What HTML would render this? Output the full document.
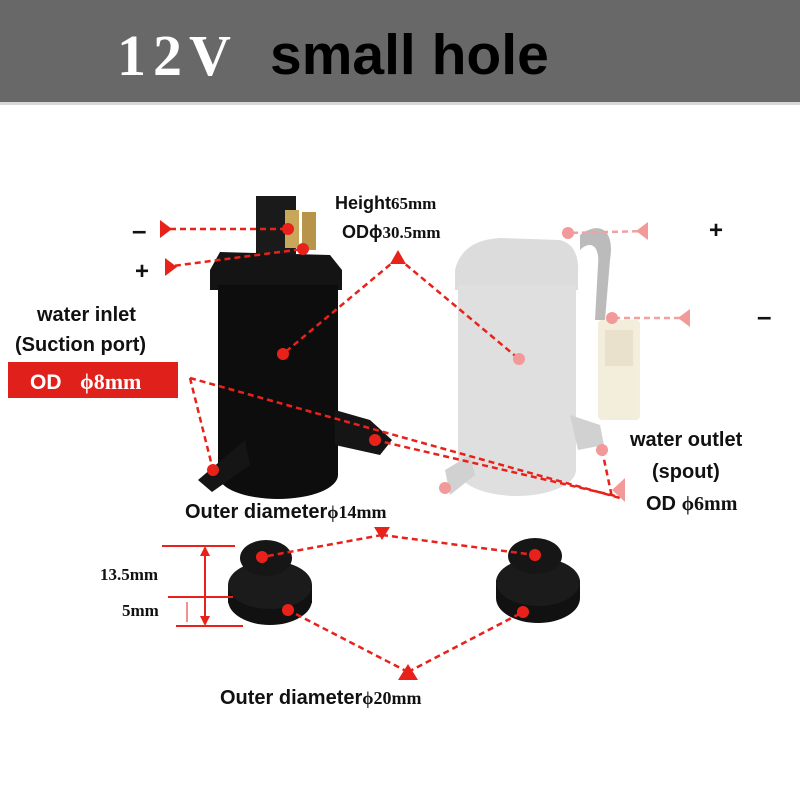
<!DOCTYPE html>
<html><head><meta charset="utf-8"><style>
html,body{margin:0;padding:0;background:#fff}
svg{display:block}
.s{font-family:"Liberation Sans",sans-serif;font-weight:bold}
.r{font-family:"Liberation Serif",serif;font-weight:bold}
</style></head><body>
<svg width="800" height="800" viewBox="0 0 800 800" xmlns="http://www.w3.org/2000/svg">
<rect x="0" y="0" width="800" height="102" fill="#686868"/>
<rect x="0" y="102" width="800" height="3" fill="#d8d8d8"/>
<text x="117" y="75" class="r" font-size="58" letter-spacing="7" fill="#fff">12V</text>
<text x="270" y="74" class="s" font-size="57" fill="#000">small hole</text>

<!-- gray pump -->
<g opacity="0.85">
<path d="M580 235 C600 220 615 230 610 260 L605 320 L595 320 L598 265 C600 245 590 240 580 250 Z" fill="#b0b0b0"/>
<path d="M455 270 Q462 240 500 238 L560 240 Q580 245 578 275 L578 290 L455 290 Z" fill="#d6d6d6"/>
<rect x="458" y="285" width="118" height="185" fill="#dadada"/>
<ellipse cx="517" cy="470" rx="59" ry="26" fill="#dadada"/>
<path d="M570 415 L600 425 L604 445 L578 450 Z" fill="#cacaca"/>
<path d="M445 470 L470 455 L475 475 L450 495 Z" fill="#cacaca"/>
<rect x="598" y="320" width="42" height="100" rx="4" fill="#f2ebd6"/>
<rect x="605" y="330" width="28" height="36" fill="#e6dcc2"/>
</g>

<!-- black pump -->
<rect x="256" y="196" width="40" height="58" fill="#1a1a1a"/>
<rect x="285" y="210" width="14" height="38" fill="#c9a75a"/>
<rect x="302" y="212" width="14" height="38" fill="#b8944a"/>
<path d="M210 270 L220 252 L330 255 L342 270 L342 290 L210 290 Z" fill="#141414"/>
<rect x="218" y="285" width="120" height="190" fill="#0d0d0d"/>
<ellipse cx="278" cy="475" rx="60" ry="24" fill="#0d0d0d"/>
<path d="M335 410 L370 420 L392 440 L380 455 L335 445 Z" fill="#151515"/>
<path d="M245 440 L250 465 L212 492 L198 480 Z" fill="#151515"/>

<!-- grommets -->
<ellipse cx="270" cy="600" rx="42" ry="25" fill="#111"/>
<rect x="228" y="585" width="84" height="18" fill="#111"/>
<ellipse cx="270" cy="585" rx="42" ry="24" fill="#1b1b1b"/>
<ellipse cx="266" cy="558" rx="26" ry="18" fill="#161616"/>
<ellipse cx="538" cy="598" rx="42" ry="25" fill="#111"/>
<rect x="496" y="580" width="84" height="18" fill="#111"/>
<ellipse cx="538" cy="582" rx="42" ry="24" fill="#1b1b1b"/>
<ellipse cx="535" cy="556" rx="27" ry="18" fill="#161616"/>

<!-- red annotations -->
<g stroke="#e8221b" stroke-width="2.5" stroke-dasharray="6,4" fill="none">
<line x1="160" y1="229" x2="288" y2="229"/>
<line x1="165" y1="267" x2="303" y2="249"/>
<line x1="398" y1="258" x2="283" y2="354"/>
<line x1="398" y1="258" x2="519" y2="359"/>
<line x1="190" y1="378" x2="213" y2="470"/>
<line x1="190" y1="378" x2="620" y2="498"/>
<line x1="375" y1="440" x2="620" y2="497"/>
<line x1="602" y1="450" x2="612" y2="497"/>
<line x1="382" y1="535" x2="262" y2="557"/>
<line x1="382" y1="535" x2="535" y2="555"/>
<line x1="408" y1="672" x2="288" y2="610"/>
<line x1="408" y1="672" x2="523" y2="612"/>
</g>
<g stroke="#f5a0a0" stroke-width="2.5" stroke-dasharray="6,4">
<line x1="648" y1="231" x2="568" y2="233"/>
<line x1="690" y1="318" x2="612" y2="318"/>
</g>
<g fill="#e8221b">
<circle cx="288" cy="229" r="6"/><circle cx="303" cy="249" r="6"/>
<circle cx="283" cy="354" r="6"/><circle cx="213" cy="470" r="6"/>
<circle cx="375" cy="440" r="6"/>
<circle cx="262" cy="557" r="6"/><circle cx="535" cy="555" r="6"/>
<circle cx="288" cy="610" r="6"/><circle cx="523" cy="612" r="6"/>
<polygon points="160,220 172,229 160,238"/>
<polygon points="165,258 177,267 165,276"/>
<polygon points="390,264 398,250 406,264"/>
<polygon points="374,527 390,527 382,540"/>
<polygon points="398,680 418,680 408,664"/>
</g>
<g fill="#f29a9a">
<circle cx="519" cy="359" r="6"/><circle cx="445" cy="488" r="6"/>
<circle cx="602" cy="450" r="6"/><circle cx="568" cy="233" r="6"/><circle cx="612" cy="318" r="6"/>
<polygon points="648,222 636,231 648,240"/>
<polygon points="690,309 678,318 690,327"/>
<polygon points="612,490 625,478 625,502"/>
</g>
<!-- dimension lines -->
<g stroke="#e8221b" stroke-width="2" fill="#e8221b">
<line x1="162" y1="546" x2="235" y2="546"/>
<line x1="168" y1="597" x2="233" y2="597"/>
<line x1="176" y1="626" x2="243" y2="626"/>
<line x1="205" y1="552" x2="205" y2="620"/>
<polygon points="200,556 205,546 210,556" stroke="none"/>
<polygon points="200,616 205,626 210,616" stroke="none"/>
<line x1="187" y1="602" x2="187" y2="622" stroke-width="1"/>
</g>

<rect x="8" y="362" width="170" height="36" fill="#e0201b"/>
<text x="30" y="389" class="s" font-size="21" fill="#fff">OD</text>
<text x="80" y="389" class="r" font-size="22" fill="#fff">ϕ8mm</text>
<text x="37" y="321" class="s" font-size="20" fill="#111">water inlet</text>
<text x="15" y="351" class="s" font-size="20" fill="#111">(Suction port)</text>
<text x="335" y="209" class="s" font-size="18" fill="#111">Height<tspan class="r" font-size="17">65mm</tspan></text>
<text x="342" y="238" class="s" font-size="18" fill="#111">ODϕ<tspan class="r" font-size="17">30.5mm</tspan></text>
<text x="132" y="239" class="s" font-size="26" fill="#111">–</text>
<text x="135" y="279" class="s" font-size="24" fill="#111">+</text>
<text x="709" y="238" class="s" font-size="24" fill="#111">+</text>
<text x="757" y="325" class="s" font-size="26" fill="#111">–</text>
<text x="630" y="446" class="s" font-size="20" fill="#111">water outlet</text>
<text x="652" y="478" class="s" font-size="20" fill="#111">(spout)</text>
<text x="646" y="510" class="s" font-size="20" fill="#111">OD <tspan class="r">ϕ6mm</tspan></text>
<text x="185" y="518" class="s" font-size="20" fill="#111">Outer diameter<tspan class="r" font-size="18">ϕ14mm</tspan></text>
<text x="220" y="704" class="s" font-size="20" fill="#111">Outer diameter<tspan class="r" font-size="18">ϕ20mm</tspan></text>
<text x="100" y="580" class="r" font-size="17" fill="#111">13.5mm</text>
<text x="122" y="616" class="r" font-size="17" fill="#111">5mm</text>
</svg>
</body></html>
